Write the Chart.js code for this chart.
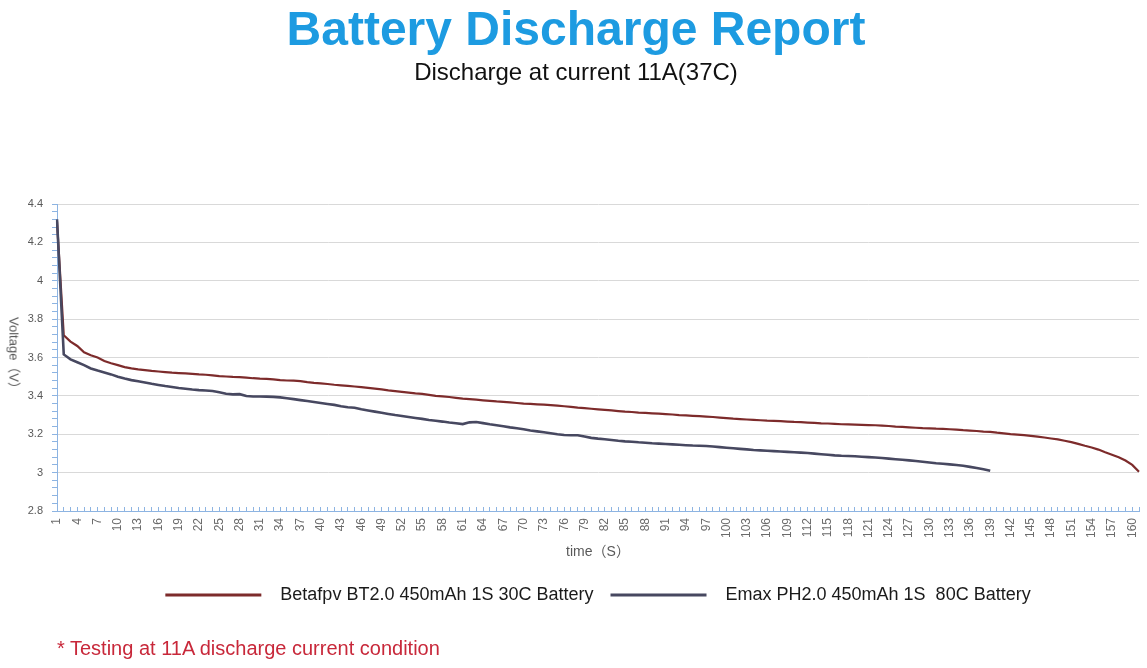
<!DOCTYPE html>
<html>
<head>
<meta charset="utf-8">
<script src="https://cdn.jsdelivr.net/npm/chart.js@4.4.1/dist/chart.umd.min.js"></script>
<style>
html,body{margin:0;padding:0;background:#fff;overflow:hidden}
#wrap{position:relative;width:1147px;height:668px}
#ytitle{position:absolute;left:15px;top:356px;transform:translate(-50%,-50%) rotate(90deg);font:13px "Liberation Sans","Noto Sans CJK SC",sans-serif;color:#595959;white-space:nowrap}
#note{position:absolute;left:57px;top:638px;font:20px/20px "Liberation Sans",Arial,sans-serif;color:#c8283a;white-space:nowrap}
</style>
</head>
<body>
<div id="wrap">
<canvas id="c" width="1147" height="668"></canvas>
<div id="ytitle">Voltage（V）</div>
<div id="note">* Testing at 11A discharge current condition</div>
</div>
<script>
// Categories: time in seconds (1..161)
const timeLabels = Array.from({length: 161}, (_, i) => String(i + 1));

// Betafpv BT2.0 450mAh 1S 30C Battery (161 readings)
const betafpvVolts = [
  4.310, 3.716, 3.683, 3.660, 3.627, 3.612, 3.600, 3.582, 3.570, 3.560,
  3.550, 3.543, 3.538, 3.534, 3.530, 3.527, 3.524, 3.521, 3.519, 3.517,
  3.515, 3.512, 3.510, 3.507, 3.503, 3.501, 3.499, 3.498, 3.495, 3.492,
  3.490, 3.489, 3.486, 3.482, 3.480, 3.479, 3.477, 3.472, 3.468, 3.465,
  3.462, 3.458, 3.455, 3.452, 3.449, 3.446, 3.442, 3.438, 3.434, 3.429,
  3.425, 3.421, 3.417, 3.413, 3.410, 3.405, 3.400, 3.397, 3.394, 3.390,
  3.386, 3.383, 3.380, 3.377, 3.374, 3.371, 3.369, 3.366, 3.363, 3.360,
  3.358, 3.356, 3.354, 3.352, 3.349, 3.346, 3.343, 3.339, 3.336, 3.333,
  3.330, 3.327, 3.324, 3.321, 3.318, 3.316, 3.313, 3.311, 3.309, 3.307,
  3.305, 3.303, 3.300, 3.298, 3.296, 3.294, 3.292, 3.290, 3.287, 3.284,
  3.281, 3.279, 3.277, 3.275, 3.273, 3.271, 3.270, 3.268, 3.266, 3.264,
  3.263, 3.261, 3.259, 3.257, 3.256, 3.254, 3.252, 3.251, 3.250, 3.249,
  3.248, 3.247, 3.245, 3.243, 3.240, 3.238, 3.236, 3.234, 3.232, 3.231,
  3.229, 3.228, 3.226, 3.224, 3.221, 3.219, 3.217, 3.214, 3.212, 3.208,
  3.205, 3.201, 3.198, 3.195, 3.192, 3.188, 3.183, 3.178, 3.173, 3.166,
  3.159, 3.150, 3.140, 3.131, 3.120, 3.106, 3.093, 3.080, 3.063, 3.040,
  3.005
];

// Emax PH2.0 450mAh 1S 80C Battery (139 readings)
const emaxVolts = [
  4.320, 3.616, 3.590, 3.575, 3.560, 3.543, 3.532, 3.522, 3.512, 3.500,
  3.490, 3.482, 3.476, 3.470, 3.463, 3.457, 3.451, 3.446, 3.441, 3.437,
  3.433, 3.430, 3.428, 3.425, 3.419, 3.411, 3.408, 3.409, 3.399, 3.397,
  3.397, 3.396, 3.395, 3.392, 3.388, 3.383, 3.378, 3.373, 3.368, 3.363,
  3.358, 3.353, 3.346, 3.341, 3.338, 3.330, 3.324, 3.318, 3.312, 3.306,
  3.300, 3.295, 3.290, 3.285, 3.280, 3.274, 3.270, 3.266, 3.261, 3.257,
  3.253, 3.262, 3.264, 3.258, 3.252, 3.247, 3.242, 3.236, 3.231, 3.226,
  3.220, 3.215, 3.210, 3.205, 3.200, 3.196, 3.195, 3.195, 3.188, 3.181,
  3.177, 3.174, 3.170, 3.166, 3.163, 3.161, 3.158, 3.156, 3.153, 3.151,
  3.149, 3.147, 3.145, 3.143, 3.141, 3.140, 3.139, 3.136, 3.133, 3.130,
  3.127, 3.124, 3.121, 3.118, 3.116, 3.114, 3.112, 3.110, 3.108, 3.106,
  3.104, 3.102, 3.099, 3.096, 3.093, 3.090, 3.088, 3.087, 3.085, 3.083,
  3.081, 3.079, 3.076, 3.073, 3.070, 3.067, 3.064, 3.061, 3.057, 3.053,
  3.049, 3.046, 3.043, 3.040, 3.036, 3.030, 3.024, 3.018, 3.010
];

const seriesNames = ['Betafpv BT2.0 450mAh 1S 30C Battery', 'Emax PH2.0 450mAh 1S  80C Battery'];

// Y axis: labelled major ticks and unlabelled minor ticks
const yMajorLabels = ['2.8', '3', '3.2', '3.4', '3.6', '3.8', '4', '4.2', '4.4'];
const yMinorTicks = [];
for (let k = 0; k <= 40; k++) yMinorTicks.push(Math.round((2.8 + k * 0.04) * 100) / 100);

const isMajor = v => yMajorLabels.some(l => Math.abs(parseFloat(l) - v) < 1e-6);

Chart.defaults.font.family = '"Liberation Sans", Arial, sans-serif';

new Chart(document.getElementById('c'), {
  type: 'line',
  data: {
    labels: timeLabels,
    datasets: [
      {
        label: seriesNames[0],
        data: betafpvVolts,
        borderColor: '#7d2b2b',
        backgroundColor: '#7d2b2b',
        borderWidth: 2.2,
        pointRadius: 0,
        tension: 0,
        order: 2
      },
      {
        label: seriesNames[1],
        data: emaxVolts,
        borderColor: '#474860',
        backgroundColor: '#474860',
        borderWidth: 2.6,
        pointRadius: 0,
        tension: 0,
        order: 1
      }
    ]
  },
  options: {
    responsive: false,
    animation: false,
    layout: { padding: { top: 0, left: 5, right: 0, bottom: 54 } },
    plugins: {
      tooltip: { enabled: false },
      title: {
        display: true,
        text: 'Battery Discharge Report',
        color: '#1d9be1',
        font: { size: 48, weight: 'bold', lineHeight: 1 },
        padding: { top: 8, bottom: 5 }
      },
      subtitle: {
        display: true,
        text: 'Discharge at current 11A(37C)',
        color: '#111111',
        font: { size: 24, lineHeight: 1 },
        padding: { top: 0, bottom: 119 }
      },
      legend: {
        position: 'bottom',
        fullSize: false,
        labels: {
          boxWidth: 96,
          boxHeight: 3,
          padding: 17,
          color: '#1a1a1a',
          font: { size: 18 },
          sort: (a, b) => a.datasetIndex - b.datasetIndex,
          generateLabels: (chart) => {
            const items = Chart.defaults.plugins.legend.labels.generateLabels(chart);
            items.forEach(it => { it.lineWidth = 0; it.text = '  ' + it.text; });
            return items;
          }
        }
      }
    },
    scales: {
      x: {
        type: 'category',
        offset: false,
        afterFit: s => { s.height = 58; s.paddingLeft = 0; s.paddingRight = 8; },
        border: { display: true, color: '#8db4e2', width: 1 },
        grid: {
          display: true,
          drawOnChartArea: false,
          drawTicks: true,
          tickLength: -4,
          tickColor: '#8db4e2',
          color: 'rgba(0,0,0,0)'
        },
        ticks: {
          autoSkip: false,
          minRotation: 90,
          maxRotation: 90,
          padding: 11,
          color: '#6b6b6b',
          font: { size: 12 },
          callback: (val, idx) => (idx % 3 === 0 ? timeLabels[idx] : '')
        },
        title: {
          display: true,
          text: 'time（S）',
          color: '#595959',
          font: { size: 14, family: '"Liberation Sans","Noto Sans CJK SC",sans-serif' },
          padding: { top: 0, bottom: 8 }
        }
      },
      y: {
        min: 2.8,
        max: 4.4,
        afterFit: s => { s.width = 52; },
        afterBuildTicks: s => { s.ticks = yMinorTicks.map(v => ({ value: v })); },
        border: { display: true, color: '#8db4e2', width: 1 },
        grid: {
          drawTicks: true,
          tickLength: 5,
          tickColor: '#8db4e2',
          color: ctx => (ctx.tick && isMajor(ctx.tick.value) ? '#d9d9d9' : 'rgba(0,0,0,0)')
        },
        ticks: {
          autoSkip: false,
          padding: 9,
          color: '#595959',
          font: { size: 11 },
          callback: v => {
            const l = yMajorLabels.find(t => Math.abs(parseFloat(t) - v) < 1e-6);
            return l === undefined ? '' : l;
          }
        },
        title: { display: false }
      }
    }
  }
});
</script>
</body>
</html>
